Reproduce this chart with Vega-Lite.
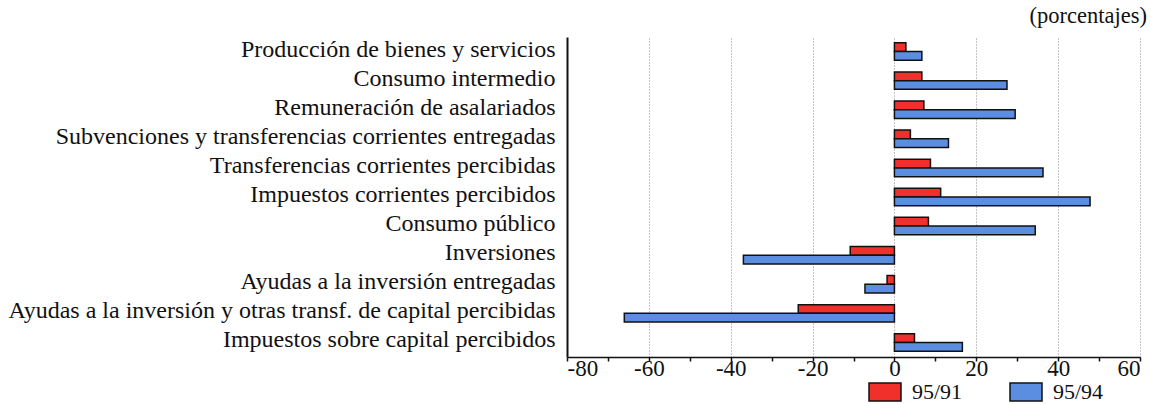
{
  "$schema": "https://vega.github.io/schema/vega-lite/v6.json",
  "autosize": {"type": "none"},
  "width": 573,
  "height": 320,
  "padding": {"left": 567, "top": 37, "right": 11, "bottom": 47},
  "background": "white",
  "title": {"text": "(porcentajes)", "anchor": "end", "frame": "group", "orient": "top", "font": "Liberation Serif", "fontSize": 22.5, "fontWeight": "normal", "color": "#111", "offset": 10, "dx": 7},
  "data": {"values": [
    {"cat": "Producción de bienes y servicios", "serie": "95/91", "v": 2.8},
    {"cat": "Producción de bienes y servicios", "serie": "95/94", "v": 6.7},
    {"cat": "Consumo intermedio", "serie": "95/91", "v": 6.7},
    {"cat": "Consumo intermedio", "serie": "95/94", "v": 27.5},
    {"cat": "Remuneración de asalariados", "serie": "95/91", "v": 7.2},
    {"cat": "Remuneración de asalariados", "serie": "95/94", "v": 29.5},
    {"cat": "Subvenciones y transferencias corrientes entregadas", "serie": "95/91", "v": 3.9},
    {"cat": "Subvenciones y transferencias corrientes entregadas", "serie": "95/94", "v": 13.2},
    {"cat": "Transferencias corrientes percibidas", "serie": "95/91", "v": 8.8},
    {"cat": "Transferencias corrientes percibidas", "serie": "95/94", "v": 36.3},
    {"cat": "Impuestos corrientes percibidos", "serie": "95/91", "v": 11.3},
    {"cat": "Impuestos corrientes percibidos", "serie": "95/94", "v": 47.8},
    {"cat": "Consumo público", "serie": "95/91", "v": 8.3},
    {"cat": "Consumo público", "serie": "95/94", "v": 34.4},
    {"cat": "Inversiones", "serie": "95/91", "v": -10.8},
    {"cat": "Inversiones", "serie": "95/94", "v": -36.9},
    {"cat": "Ayudas a la inversión entregadas", "serie": "95/91", "v": -1.8},
    {"cat": "Ayudas a la inversión entregadas", "serie": "95/94", "v": -7.2},
    {"cat": "Ayudas a la inversión y otras transf. de capital percibidas", "serie": "95/91", "v": -23.5},
    {"cat": "Ayudas a la inversión y otras transf. de capital percibidas", "serie": "95/94", "v": -66.0},
    {"cat": "Impuestos sobre capital percibidos", "serie": "95/91", "v": 4.9},
    {"cat": "Impuestos sobre capital percibidos", "serie": "95/94", "v": 16.6}
  ]},
  "mark": {"type": "bar", "stroke": "#111", "strokeWidth": 1.5},
  "encoding": {
    "y": {
      "field": "cat", "type": "nominal", "sort": null, "title": null,
      "scale": {"paddingInner": 0.4, "paddingOuter": 0.2},
      "axis": {"domainColor": "#111", "domainWidth": 2, "ticks": false, "labelPadding": 12, "labelLimit": 700, "labelOffset": -2, "labelFont": "Liberation Serif", "labelFontSize": 24, "labelColor": "#111", "grid": false}
    },
    "x": {
      "field": "v", "type": "quantitative", "title": null,
      "scale": {"domain": [-80, 60], "nice": false},
      "axis": {
        "values": [-80, -70, -60, -50, -40, -30, -20, -10, 0, 10, 20, 30, 40, 50, 60],
        "labelExpr": "datum.value % 20 === 0 ? toString(datum.value) : ''",
        "domainColor": "#111", "domainWidth": 1.5,
        "tickColor": "#111", "tickSize": 4, "tickWidth": 1.5,
        "labelFont": "Liberation Serif", "labelFontSize": 23, "labelColor": "#111", "labelPadding": -4,
        "grid": true, "gridColor": "#888", "gridDash": [1, 2], "gridWidth": 1,
        "gridOpacity": {"condition": {"test": "datum.value % 20 !== 0 || datum.value === -80", "value": 0}, "value": 1}
      }
    },
    "yOffset": {"field": "serie", "type": "nominal", "sort": ["95/91", "95/94"]},
    "color": {
      "field": "serie", "type": "nominal",
      "scale": {"domain": ["95/91", "95/94"], "range": ["#f2302b", "#5b8de0"]},
      "legend": {
        "title": null, "orient": "none", "legendX": 301, "legendY": 338, "direction": "horizontal",
        "symbolType": "M-1,-0.56H1V0.56H-1Z", "symbolSize": 1024, "symbolStrokeColor": "#111", "symbolStrokeWidth": 1.5, "symbolOpacity": 1,
        "labelFont": "Liberation Serif", "labelFontSize": 22, "labelColor": "#111", "labelOffset": 10, "columnPadding": 44
      }
    }
  },
  "config": {"view": {"stroke": null}}
}
